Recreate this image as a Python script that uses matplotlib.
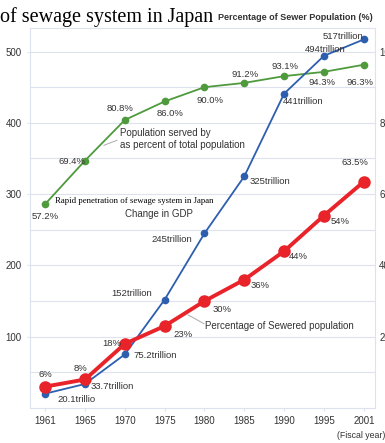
import matplotlib
matplotlib.use("Agg")
import matplotlib.pyplot as plt
import numpy as np

years = ["1961", "1965", "1970", "1975", "1980", "1985", "1990", "1995", "2001"]
gdp = [20.1, 33.7, 75.2, 152, 245, 325, 441, 494, 517]
gdp_labels = ["20.1trillio", "33.7trillion", "75.2trillion", "152trillion", "245trillion",
              "325trillion", "441trillion", "494trillion", "517trillion"]
served = [57.2, 69.4, 80.8, 86.0, 90.0, 91.2, 93.1, 94.3, 96.3]
sewered = [6, 8, 18, 23, 30, 36, 44, 54, 63.5]
left_ticks = [100, 200, 300, 400, 500]
right_ticks = [20, 40, 60, 80, 100]

plt.rcParams["font.family"] = ["Liberation Sans", "DejaVu Sans"]

W, H = 385, 443
fig = plt.figure(figsize=(W / 100, H / 100), dpi=100)
ax = fig.add_axes([30 / W, 1 - 408 / H, 345 / W, 380 / H])
x = np.arange(len(years))

GREEN = "#4e9a3c"
BLUE = "#2d5fae"
RED = "#e8232a"
TXT = "#333333"
FS = 6.8

ax.set_xlim(-0.38, 8.28)
ax.set_ylim(0, 533)
for v in range(50, 551, 50):
    ax.axhline(v, color="#dde2ee", lw=0.8, zorder=0)
for s in ax.spines.values():
    s.set_color("#dde2ee")
    s.set_linewidth(0.8)
ax.set_xticks(x)
ax.set_xticklabels(years, fontsize=7, color=TXT)
ax.set_yticks(left_ticks)
ax.set_yticklabels([str(t) for t in left_ticks], fontsize=7, color=TXT)
ax.tick_params(axis="both", length=2, color="#dde2ee", pad=4)

ax2 = ax.twinx()
ax2.set_ylim(0, 533 / 5)
ax2.set_yticks(right_ticks)
ax2.set_yticklabels([str(t) for t in right_ticks], fontsize=7, color=TXT)
ax2.tick_params(axis="y", length=0, pad=3)
for s in ax2.spines.values():
    s.set_visible(False)

# lines
ax.plot(x, [v * 5 for v in served], color=GREEN, lw=1.3, marker="o", ms=4.5, zorder=3)
ax.plot(x, gdp, color=BLUE, lw=1.3, marker="o", ms=4.5, zorder=3)
ax.plot(x, [v * 5 for v in sewered], color=RED, lw=2.8, marker="o", ms=8, zorder=4)

def px(xp, yp):
    return ((xp - 30) / 345 * 8.66 - 0.38, (409.5 - yp) / 0.715)

def lab(xp, yp, s, ha="center", fs=FS):
    X, Y = px(xp, yp)
    ax.text(X, Y, s, ha=ha, va="center", fontsize=fs, color=TXT, zorder=6)

gdp_pos = [(77, 401), (112, 388), (155, 357), (132, 295), (172, 241), (270, 182),
           (303, 102), (325, 50), (343, 37)]
for (xp, yp), s in zip(gdp_pos, gdp_labels):
    lab(xp, yp, s)

served_pos = [(45, 217), (72, 162), (120, 109), (170, 114), (210, 101), (245, 75),
              (285, 67), (322, 83), (360, 83)]
for (xp, yp), v in zip(served_pos, served):
    lab(xp, yp, f"{v:.1f}%")

sew_pos = [(45, 376), (80, 370), (112, 345), (183, 336), (222, 311), (260, 287),
           (298, 258), (340, 222), (355, 163)]
for (xp, yp), v in zip(sew_pos, sewered):
    lab(xp, yp, (f"{v:g}%"))

# annotations
lab(120, 134, "Population served by", ha="left", fs=7.0)
lab(120, 146, "as percent of total population", ha="left", fs=7.0)
ax.plot(*zip(px(104, 146), px(117, 141)), color="#aaaaaa", lw=0.7, zorder=5)
lab(125, 215, "Change in GDP", ha="left", fs=7.0)
lab(205, 327, "Percentage of Sewered population", ha="left", fs=7.0)
ax.plot(*zip(px(188, 316), px(204, 325)), color="#aaaaaa", lw=0.7, zorder=5)

X, Y = px(55, 202)
ax.text(X, Y, "Rapid penetration of sewage system in Japan", ha="left", va="center",
        fontsize=6.3, family="Liberation Serif", color="black", zorder=7)

fig.text(218 / W, 1 - 18 / H, "Percentage of Sewer Population (%)", ha="left", va="center",
         fontsize=6.5, color=TXT, weight="bold")
fig.text(0, 1 - 17 / H, "of sewage system in Japan", ha="left", va="center",
         fontsize=14.5, family="Liberation Serif", color="black")
fig.text(1.0, 1 - 436 / H, "(Fiscal year)", ha="right", va="center", fontsize=6.3, color=TXT)

fig.savefig("out.png", dpi=100)
